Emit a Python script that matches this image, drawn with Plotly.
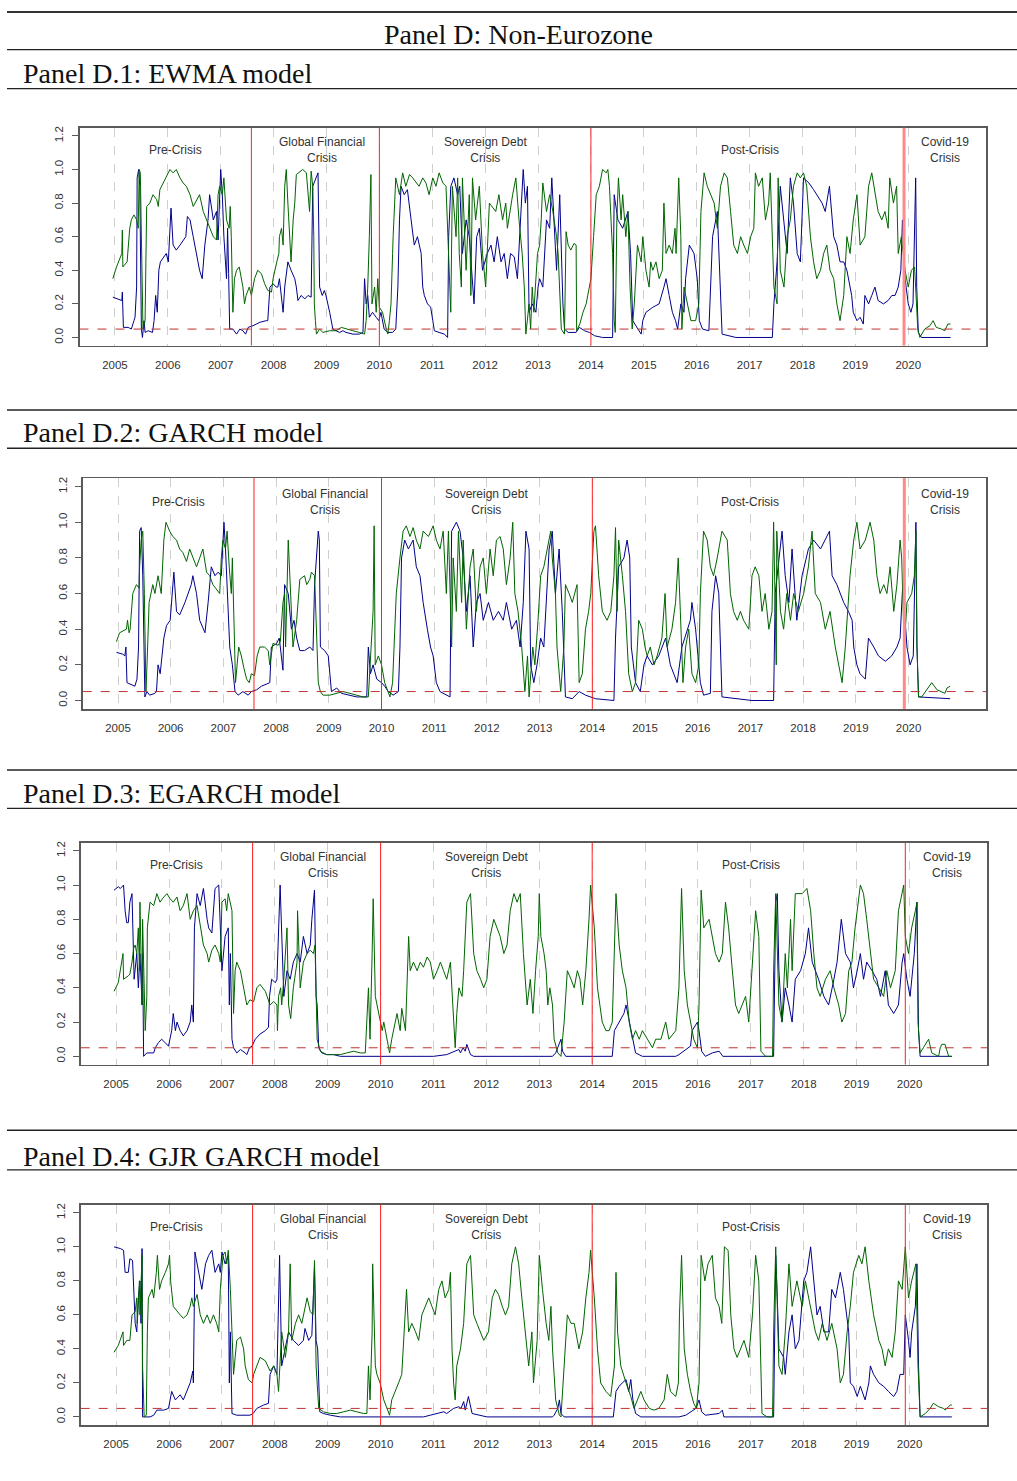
import plotly.graph_objects as go

# ---------------- data (year, value) ----------------
ewma_blue = [(2004.96,0.24),(2005.06,0.23),(2005.13,0.22),(2005.14,0.27),(2005.16,0.06),(2005.25,0.06),(2005.31,0.05),(2005.36,0.10),(2005.38,0.12),(2005.41,0.30),(2005.42,0.95),(2005.45,1.00),(2005.47,0.90),(2005.50,0.05),(2005.52,0.00),(2005.55,0.10),(2005.57,0.03),(2005.63,0.04),(2005.71,0.03),(2005.74,0.10),(2005.77,0.25),(2005.80,0.15),(2005.83,0.40),(2005.86,0.45),(2005.93,0.48),(2005.97,0.50),(2006.01,0.45),(2006.04,0.60),(2006.06,0.77),(2006.10,0.55),(2006.16,0.52),(2006.23,0.55),(2006.29,0.58),(2006.34,0.60),(2006.37,0.72),(2006.42,0.70),(2006.48,0.60),(2006.54,0.50),(2006.60,0.40),(2006.65,0.35),(2006.70,0.55),(2006.76,0.70),(2006.79,0.85),(2006.86,0.70),(2006.92,0.75),(2006.95,0.58),(2007.00,1.00),(2007.03,0.85),(2007.06,0.60),(2007.11,0.35),(2007.13,0.65),(2007.15,0.38),(2007.17,0.05),(2007.23,0.05),(2007.30,0.02),(2007.36,0.05),(2007.42,0.04),(2007.47,0.02),(2007.52,0.06),(2007.61,0.07),(2007.74,0.09),(2007.86,0.10),(2007.89,0.10),(2007.93,0.30),(2007.99,0.32),(2008.05,0.30),(2008.08,0.30),(2008.11,0.35),(2008.18,0.15),(2008.21,0.30),(2008.27,0.45),(2008.33,0.40),(2008.40,0.35),(2008.43,0.30),(2008.46,0.22),(2008.52,0.25),(2008.59,0.23),(2008.65,0.25),(2008.71,0.24),(2008.74,0.90),(2008.81,0.95),(2008.84,0.98),(2008.87,0.30),(2008.92,0.25),(2008.96,0.28),(2008.99,0.25),(2009.06,0.15),(2009.12,0.05),(2009.18,0.04),(2009.25,0.03),(2009.31,0.04),(2009.37,0.03),(2009.50,0.02),(2009.62,0.02),(2009.69,0.03),(2009.72,0.35),(2009.75,0.20),(2009.78,0.25),(2009.81,0.12),(2009.87,0.15),(2009.94,0.12),(2009.99,0.10),(2010.03,0.15),(2010.09,0.05),(2010.16,0.03),(2010.25,0.03),(2010.31,0.05),(2010.35,0.30),(2010.38,0.70),(2010.41,0.90),(2010.47,0.85),(2010.53,0.88),(2010.60,0.70),(2010.66,0.55),(2010.72,0.60),(2010.79,0.50),(2010.82,0.30),(2010.85,0.25),(2010.91,0.20),(2010.97,0.18),(2011.01,0.10),(2011.04,0.04),(2011.13,0.03),(2011.23,0.02),(2011.29,0.00),(2011.31,0.60),(2011.35,0.90),(2011.41,0.95),(2011.48,0.85),(2011.52,0.90),(2011.57,0.50),(2011.64,0.70),(2011.70,0.60),(2011.76,0.30),(2011.79,0.20),(2011.84,0.60),(2011.89,0.65),(2011.95,0.40),(2012.04,0.50),(2012.11,0.55),(2012.17,0.45),(2012.23,0.60),(2012.30,0.45),(2012.36,0.50),(2012.42,0.35),(2012.48,0.50),(2012.55,0.48),(2012.61,0.35),(2012.67,0.70),(2012.72,1.00),(2012.76,0.80),(2012.80,0.90),(2012.83,0.15),(2012.89,0.20),(2012.96,0.15),(2013.00,0.30),(2013.03,0.35),(2013.09,0.30),(2013.16,0.70),(2013.22,0.65),(2013.26,0.95),(2013.31,0.60),(2013.35,0.40),(2013.41,0.85),(2013.44,0.50),(2013.47,0.20),(2013.50,0.05),(2013.57,0.03),(2013.72,0.03),(2013.78,0.06),(2013.88,0.04),(2013.97,0.03),(2014.07,0.01),(2014.22,0.00),(2014.41,0.00),(2014.44,0.85),(2014.51,0.70),(2014.60,0.65),(2014.70,0.75),(2014.75,0.50),(2014.79,0.10),(2014.88,0.05),(2014.95,0.02),(2014.98,0.10),(2015.04,0.15),(2015.17,0.18),(2015.29,0.20),(2015.38,0.30),(2015.42,0.35),(2015.48,0.25),(2015.54,0.15),(2015.60,0.10),(2015.64,0.05),(2015.70,0.20),(2015.76,0.15),(2015.79,0.35),(2015.86,0.55),(2015.95,0.50),(2016.01,0.35),(2016.05,0.10),(2016.11,0.05),(2016.23,0.04),(2016.30,0.60),(2016.39,0.75),(2016.42,0.50),(2016.48,0.02),(2016.74,0.00),(2017.43,0.00),(2017.46,0.20),(2017.52,0.45),(2017.58,0.90),(2017.65,0.70),(2017.71,0.50),(2017.77,0.95),(2017.83,0.80),(2017.90,0.50),(2017.96,0.45),(2018.02,0.95),(2018.12,0.92),(2018.21,0.88),(2018.27,0.85),(2018.37,0.80),(2018.43,0.75),(2018.51,0.90),(2018.59,0.60),(2018.65,0.55),(2018.71,0.45),(2018.78,0.45),(2018.84,0.40),(2018.93,0.25),(2018.96,0.15),(2019.03,0.10),(2019.09,0.12),(2019.15,0.08),(2019.18,0.25),(2019.25,0.20),(2019.31,0.25),(2019.37,0.30),(2019.43,0.22),(2019.53,0.20),(2019.62,0.22),(2019.69,0.25),(2019.75,0.25),(2019.81,0.30),(2019.86,0.40),(2019.89,0.70),(2019.94,0.35),(2020.00,0.20),(2020.05,0.15),(2020.09,0.20),(2020.14,0.95),(2020.16,0.30),(2020.19,0.03),(2020.25,0.00),(2020.80,0.00)]

ewma_green = [(2004.96,0.35),(2005.03,0.42),(2005.13,0.50),(2005.14,0.64),(2005.15,0.42),(2005.23,0.45),(2005.28,0.65),(2005.31,0.70),(2005.36,0.73),(2005.41,0.70),(2005.44,0.65),(2005.46,1.00),(2005.48,0.98),(2005.53,0.05),(2005.57,0.10),(2005.60,0.78),(2005.66,0.80),(2005.72,0.85),(2005.79,0.82),(2005.82,0.78),(2005.85,0.88),(2005.97,0.95),(2006.04,1.00),(2006.10,0.98),(2006.16,1.00),(2006.23,0.95),(2006.29,0.92),(2006.35,0.90),(2006.42,0.85),(2006.48,0.78),(2006.54,0.82),(2006.60,0.85),(2006.67,0.75),(2006.73,0.70),(2006.79,0.65),(2006.86,0.60),(2006.92,0.58),(2006.95,0.85),(2006.98,0.90),(2007.03,0.85),(2007.06,0.95),(2007.11,0.70),(2007.16,0.65),(2007.18,0.78),(2007.20,0.60),(2007.23,0.15),(2007.26,0.35),(2007.30,0.40),(2007.35,0.42),(2007.39,0.35),(2007.42,0.30),(2007.45,0.20),(2007.48,0.25),(2007.54,0.30),(2007.58,0.25),(2007.64,0.35),(2007.70,0.40),(2007.77,0.38),(2007.83,0.32),(2007.89,0.28),(2007.96,0.27),(2007.99,0.35),(2008.02,0.40),(2008.06,0.45),(2008.10,0.50),(2008.11,0.60),(2008.15,0.65),(2008.18,0.55),(2008.21,0.90),(2008.24,1.00),(2008.27,0.80),(2008.30,0.60),(2008.33,0.45),(2008.37,0.70),(2008.40,0.80),(2008.43,0.97),(2008.55,1.00),(2008.62,0.98),(2008.68,0.75),(2008.71,0.99),(2008.74,0.90),(2008.76,0.60),(2008.77,0.20),(2008.79,0.10),(2008.81,0.02),(2008.87,0.05),(2008.93,0.03),(2009.06,0.04),(2009.18,0.04),(2009.28,0.06),(2009.37,0.05),(2009.50,0.04),(2009.62,0.03),(2009.72,0.02),(2009.75,0.10),(2009.78,0.30),(2009.81,0.60),(2009.84,0.97),(2009.86,0.20),(2009.91,0.30),(2009.94,0.15),(2009.97,0.35),(2010.00,0.18),(2010.06,0.15),(2010.13,0.05),(2010.16,0.02),(2010.19,0.10),(2010.22,0.20),(2010.25,0.50),(2010.26,0.60),(2010.31,0.95),(2010.38,0.85),(2010.44,0.98),(2010.50,0.90),(2010.57,0.97),(2010.63,0.95),(2010.75,0.90),(2010.82,0.95),(2010.88,0.92),(2010.94,0.85),(2011.01,0.95),(2011.07,0.90),(2011.13,0.98),(2011.20,0.92),(2011.26,0.90),(2011.35,0.15),(2011.38,0.90),(2011.45,0.60),(2011.48,0.95),(2011.51,0.50),(2011.55,0.30),(2011.57,0.95),(2011.64,0.40),(2011.70,0.85),(2011.73,0.25),(2011.76,0.95),(2011.82,0.70),(2011.89,0.90),(2011.95,0.50),(2012.01,0.30),(2012.08,0.80),(2012.20,0.75),(2012.26,0.85),(2012.33,0.70),(2012.39,0.80),(2012.42,0.65),(2012.52,0.85),(2012.58,0.95),(2012.64,0.70),(2012.70,0.50),(2012.74,0.30),(2012.77,0.02),(2012.83,0.20),(2012.86,0.05),(2012.89,0.30),(2012.92,0.15),(2012.99,0.50),(2013.03,0.55),(2013.06,0.70),(2013.09,0.92),(2013.16,0.75),(2013.22,0.85),(2013.28,0.75),(2013.35,0.60),(2013.38,0.50),(2013.41,0.30),(2013.44,0.05),(2013.50,0.02),(2013.53,0.63),(2013.57,0.55),(2013.62,0.52),(2013.68,0.56),(2013.72,0.55),(2013.73,0.04),(2013.79,0.08),(2013.85,0.15),(2013.91,0.20),(2013.97,0.30),(2014.00,0.35),(2014.05,0.60),(2014.10,0.85),(2014.16,0.90),(2014.22,1.00),(2014.29,0.98),(2014.32,1.00),(2014.35,0.90),(2014.41,0.50),(2014.44,0.10),(2014.46,0.03),(2014.49,0.70),(2014.52,0.95),(2014.57,0.70),(2014.60,0.85),(2014.66,0.60),(2014.70,0.75),(2014.74,0.30),(2014.78,0.05),(2014.82,0.20),(2014.88,0.55),(2014.95,0.45),(2014.98,0.60),(2015.04,0.40),(2015.10,0.30),(2015.13,0.45),(2015.17,0.40),(2015.23,0.45),(2015.29,0.35),(2015.35,0.40),(2015.38,0.80),(2015.42,0.50),(2015.48,0.55),(2015.54,0.50),(2015.59,0.65),(2015.61,0.50),(2015.66,0.95),(2015.70,0.60),(2015.72,0.05),(2015.76,0.30),(2015.83,0.20),(2015.89,0.10),(2015.98,0.10),(2016.04,0.20),(2016.08,0.75),(2016.14,0.98),(2016.20,0.90),(2016.26,0.85),(2016.33,0.80),(2016.39,0.65),(2016.45,0.90),(2016.52,0.98),(2016.58,0.95),(2016.64,0.75),(2016.70,0.55),(2016.77,0.50),(2016.83,0.60),(2016.89,0.55),(2016.96,0.50),(2017.02,0.60),(2017.08,0.65),(2017.11,0.98),(2017.17,0.90),(2017.24,0.95),(2017.30,0.70),(2017.36,0.80),(2017.39,0.98),(2017.46,0.30),(2017.52,0.20),(2017.54,0.95),(2017.58,0.40),(2017.65,0.30),(2017.71,0.60),(2017.77,0.70),(2017.83,0.90),(2017.90,0.98),(2017.96,0.95),(2018.02,0.98),(2018.08,0.90),(2018.15,0.60),(2018.21,0.45),(2018.27,0.35),(2018.34,0.40),(2018.40,0.50),(2018.46,0.55),(2018.52,0.40),(2018.59,0.35),(2018.65,0.20),(2018.71,0.10),(2018.78,0.25),(2018.84,0.60),(2018.90,0.50),(2018.96,0.70),(2019.03,0.85),(2019.09,0.55),(2019.18,0.60),(2019.25,0.90),(2019.31,0.98),(2019.37,0.85),(2019.43,0.75),(2019.50,0.70),(2019.56,0.75),(2019.62,0.65),(2019.65,0.95),(2019.72,0.80),(2019.78,0.90),(2019.81,0.50),(2019.87,0.60),(2019.94,0.40),(2020.00,0.30),(2020.06,0.40),(2020.12,0.42),(2020.18,0.05),(2020.22,0.00),(2020.31,0.05),(2020.41,0.07),(2020.47,0.10),(2020.53,0.06),(2020.63,0.05),(2020.69,0.04),(2020.75,0.08),(2020.80,0.08)]

garch_blue = [(2004.97,0.27),(2005.09,0.26),(2005.13,0.25),(2005.15,0.30),(2005.17,0.10),(2005.25,0.09),(2005.32,0.08),(2005.36,0.12),(2005.39,0.30),(2005.41,0.95),(2005.44,0.97),(2005.47,0.70),(2005.51,0.02),(2005.55,0.05),(2005.60,0.03),(2005.70,0.04),(2005.73,0.05),(2005.76,0.20),(2005.80,0.15),(2005.87,0.35),(2005.92,0.42),(2005.99,0.45),(2006.02,0.55),(2006.06,0.72),(2006.11,0.50),(2006.17,0.48),(2006.27,0.55),(2006.33,0.60),(2006.39,0.65),(2006.42,0.70),(2006.49,0.60),(2006.55,0.45),(2006.65,0.38),(2006.71,0.55),(2006.77,0.75),(2006.84,0.70),(2006.90,0.72),(2006.96,0.70),(2007.01,1.00),(2007.04,0.85),(2007.07,0.60),(2007.12,0.30),(2007.17,0.20),(2007.22,0.05),(2007.28,0.03),(2007.37,0.05),(2007.47,0.03),(2007.53,0.05),(2007.63,0.06),(2007.72,0.08),(2007.88,0.10),(2007.91,0.30),(2008.01,0.32),(2008.06,0.35),(2008.13,0.17),(2008.16,0.65),(2008.23,0.60),(2008.29,0.40),(2008.34,0.45),(2008.39,0.35),(2008.45,0.28),(2008.54,0.28),(2008.64,0.30),(2008.70,0.28),(2008.73,0.65),(2008.80,0.95),(2008.82,0.90),(2008.84,0.30),(2008.92,0.28),(2008.99,0.25),(2009.05,0.05),(2009.15,0.07),(2009.24,0.04),(2009.37,0.03),(2009.53,0.02),(2009.72,0.02),(2009.75,0.30),(2009.79,0.15),(2009.84,0.20),(2009.91,0.12),(2010.00,0.10),(2010.06,0.08),(2010.13,0.05),(2010.22,0.03),(2010.32,0.05),(2010.35,0.30),(2010.38,0.80),(2010.44,0.90),(2010.51,0.85),(2010.60,0.90),(2010.66,0.75),(2010.73,0.70),(2010.79,0.55),(2010.87,0.40),(2010.93,0.30),(2010.98,0.25),(2011.04,0.10),(2011.11,0.05),(2011.23,0.03),(2011.30,0.02),(2011.33,0.95),(2011.42,1.00),(2011.49,0.95),(2011.55,0.80),(2011.61,0.50),(2011.68,0.70),(2011.74,0.30),(2011.80,0.55),(2011.87,0.60),(2011.93,0.45),(2012.03,0.55),(2012.12,0.45),(2012.22,0.50),(2012.31,0.45),(2012.37,0.55),(2012.47,0.40),(2012.56,0.45),(2012.63,0.30),(2012.69,0.55),(2012.74,0.95),(2012.80,0.85),(2012.83,0.20),(2012.89,0.10),(2012.95,0.20),(2013.02,0.35),(2013.08,0.30),(2013.18,0.85),(2013.24,0.95),(2013.30,0.60),(2013.37,0.85),(2013.43,0.50),(2013.46,0.20),(2013.49,0.02),(2013.62,0.01),(2013.75,0.05),(2013.87,0.03),(2014.06,0.01),(2014.41,0.00),(2014.44,0.35),(2014.50,0.75),(2014.60,0.80),(2014.66,0.90),(2014.71,0.80),(2014.74,0.30),(2014.82,0.10),(2014.91,0.05),(2014.98,0.20),(2015.04,0.25),(2015.14,0.20),(2015.26,0.25),(2015.39,0.35),(2015.48,0.20),(2015.55,0.15),(2015.61,0.10),(2015.70,0.30),(2015.86,0.45),(2015.89,0.55),(2015.96,0.40),(2016.05,0.10),(2016.11,0.03),(2016.24,0.04),(2016.27,0.50),(2016.34,0.70),(2016.40,0.60),(2016.46,0.02),(2017.03,0.00),(2017.44,0.00),(2017.47,0.60),(2017.60,0.95),(2017.66,0.70),(2017.73,0.55),(2017.79,0.85),(2017.88,0.45),(2017.98,0.70),(2018.10,0.85),(2018.20,0.90),(2018.33,0.85),(2018.50,0.95),(2018.55,0.70),(2018.64,0.65),(2018.77,0.55),(2018.86,0.50),(2018.93,0.45),(2018.96,0.30),(2019.02,0.20),(2019.08,0.15),(2019.18,0.12),(2019.24,0.35),(2019.34,0.30),(2019.43,0.25),(2019.56,0.22),(2019.68,0.25),(2019.78,0.30),(2019.84,0.35),(2019.89,0.65),(2019.97,0.30),(2020.03,0.20),(2020.09,0.25),(2020.14,1.00),(2020.16,0.30),(2020.19,0.02),(2020.79,0.01)]

garch_green = [(2004.97,0.33),(2005.03,0.38),(2005.16,0.40),(2005.18,0.45),(2005.21,0.38),(2005.23,0.40),(2005.28,0.60),(2005.35,0.65),(2005.40,0.63),(2005.41,0.75),(2005.44,0.90),(2005.47,0.95),(2005.50,0.60),(2005.53,0.05),(2005.55,0.20),(2005.59,0.55),(2005.66,0.65),(2005.70,0.60),(2005.76,0.70),(2005.82,0.60),(2005.87,0.90),(2005.91,1.00),(2005.98,0.95),(2006.04,0.92),(2006.11,0.90),(2006.17,0.85),(2006.23,0.83),(2006.30,0.78),(2006.36,0.85),(2006.42,0.80),(2006.49,0.75),(2006.55,0.80),(2006.61,0.85),(2006.68,0.72),(2006.74,0.70),(2006.80,0.65),(2006.87,0.62),(2006.93,0.60),(2006.96,0.80),(2006.99,0.90),(2007.04,0.85),(2007.07,0.95),(2007.11,0.75),(2007.15,0.60),(2007.17,0.80),(2007.20,0.40),(2007.23,0.10),(2007.29,0.30),(2007.34,0.25),(2007.39,0.18),(2007.44,0.12),(2007.49,0.10),(2007.53,0.15),(2007.59,0.14),(2007.64,0.25),(2007.69,0.30),(2007.78,0.30),(2007.85,0.28),(2007.88,0.20),(2007.94,0.32),(2008.04,0.31),(2008.08,0.33),(2008.13,0.55),(2008.16,0.60),(2008.18,0.30),(2008.23,0.90),(2008.26,0.70),(2008.29,0.50),(2008.32,0.30),(2008.39,0.45),(2008.45,0.68),(2008.54,0.70),(2008.58,0.65),(2008.64,0.68),(2008.67,0.72),(2008.73,0.70),(2008.75,0.50),(2008.78,0.20),(2008.80,0.10),(2008.84,0.05),(2008.89,0.03),(2009.02,0.03),(2009.15,0.04),(2009.27,0.05),(2009.40,0.04),(2009.53,0.03),(2009.65,0.02),(2009.75,0.02),(2009.78,0.20),(2009.81,0.30),(2009.84,0.50),(2009.86,0.98),(2009.88,0.20),(2009.94,0.25),(2010.00,0.20),(2010.06,0.10),(2010.13,0.05),(2010.16,0.02),(2010.21,0.10),(2010.25,0.35),(2010.28,0.60),(2010.35,0.80),(2010.41,0.95),(2010.47,0.98),(2010.54,0.92),(2010.60,0.97),(2010.66,0.90),(2010.73,0.85),(2010.79,0.95),(2010.89,0.92),(2010.98,0.98),(2011.04,0.90),(2011.11,0.85),(2011.17,0.95),(2011.23,0.60),(2011.27,0.95),(2011.33,0.30),(2011.36,0.80),(2011.42,0.50),(2011.46,0.95),(2011.52,0.55),(2011.55,0.90),(2011.61,0.40),(2011.68,0.75),(2011.74,0.85),(2011.80,0.50),(2011.87,0.75),(2011.93,0.80),(2011.99,0.60),(2012.06,0.85),(2012.12,0.70),(2012.18,0.90),(2012.25,0.92),(2012.31,0.85),(2012.37,0.65),(2012.44,0.80),(2012.49,1.00),(2012.53,0.60),(2012.59,0.50),(2012.66,0.30),(2012.72,0.05),(2012.77,0.25),(2012.80,0.02),(2012.87,0.30),(2012.91,0.20),(2012.97,0.45),(2013.02,0.70),(2013.08,0.75),(2013.15,0.85),(2013.21,0.95),(2013.24,0.80),(2013.30,0.60),(2013.33,0.30),(2013.40,0.05),(2013.46,0.30),(2013.49,0.65),(2013.56,0.60),(2013.62,0.55),(2013.71,0.65),(2013.75,0.10),(2013.81,0.15),(2013.87,0.40),(2013.93,0.50),(2013.97,0.60),(2014.03,0.95),(2014.06,0.98),(2014.12,0.70),(2014.19,0.50),(2014.28,0.45),(2014.35,0.50),(2014.41,0.70),(2014.44,0.97),(2014.47,0.50),(2014.50,0.90),(2014.57,0.70),(2014.63,0.50),(2014.69,0.15),(2014.76,0.05),(2014.82,0.10),(2014.88,0.45),(2014.95,0.40),(2015.00,0.30),(2015.04,0.25),(2015.10,0.30),(2015.17,0.20),(2015.23,0.25),(2015.32,0.35),(2015.38,0.60),(2015.42,0.30),(2015.51,0.40),(2015.58,0.55),(2015.63,0.80),(2015.67,0.50),(2015.72,0.10),(2015.77,0.30),(2015.83,0.40),(2015.89,0.15),(2015.96,0.10),(2016.02,0.20),(2016.05,0.60),(2016.11,0.95),(2016.18,0.90),(2016.24,0.75),(2016.30,0.70),(2016.37,0.80),(2016.46,0.95),(2016.56,0.90),(2016.62,0.60),(2016.68,0.50),(2016.75,0.45),(2016.81,0.50),(2016.87,0.45),(2016.97,0.40),(2017.03,0.70),(2017.09,0.75),(2017.16,0.70),(2017.22,0.50),(2017.28,0.60),(2017.35,0.40),(2017.41,0.50),(2017.44,1.00),(2017.49,0.20),(2017.50,0.95),(2017.57,0.50),(2017.63,0.40),(2017.69,0.60),(2017.76,0.45),(2017.82,0.60),(2017.91,0.50),(2018.01,0.60),(2018.10,0.75),(2018.17,0.95),(2018.23,0.60),(2018.33,0.55),(2018.42,0.40),(2018.51,0.50),(2018.61,0.30),(2018.67,0.20),(2018.74,0.10),(2018.80,0.30),(2018.89,0.70),(2018.96,0.90),(2019.02,1.00),(2019.08,0.85),(2019.18,0.90),(2019.27,1.00),(2019.34,0.90),(2019.40,0.70),(2019.46,0.60),(2019.53,0.65),(2019.59,0.60),(2019.65,0.75),(2019.72,0.50),(2019.78,0.65),(2019.84,0.90),(2019.87,0.80),(2019.92,0.30),(2019.97,0.55),(2020.06,0.60),(2020.11,0.70),(2020.14,0.95),(2020.16,0.30),(2020.19,0.02),(2020.25,0.02),(2020.35,0.06),(2020.44,0.10),(2020.54,0.06),(2020.63,0.05),(2020.69,0.04),(2020.73,0.07),(2020.79,0.08)]

egarch_blue = [(2004.96,0.97),(2005.04,0.99),(2005.08,0.98),(2005.14,1.00),(2005.17,0.85),(2005.20,0.78),(2005.23,0.78),(2005.26,0.90),(2005.30,0.95),(2005.34,0.45),(2005.39,0.60),(2005.42,0.40),(2005.45,0.60),(2005.49,0.30),(2005.50,0.60),(2005.52,0.00),(2005.58,0.02),(2005.71,0.02),(2005.74,0.05),(2005.80,0.08),(2005.86,0.10),(2005.93,0.08),(2005.99,0.06),(2006.05,0.15),(2006.08,0.25),(2006.12,0.15),(2006.15,0.20),(2006.21,0.15),(2006.27,0.12),(2006.34,0.15),(2006.40,0.20),(2006.43,0.30),(2006.46,0.20),(2006.48,0.75),(2006.53,0.95),(2006.59,0.88),(2006.65,0.98),(2006.72,0.80),(2006.75,0.75),(2006.81,0.72),(2006.87,0.98),(2006.94,1.00),(2006.97,0.75),(2007.00,0.50),(2007.06,0.70),(2007.12,0.75),(2007.14,0.30),(2007.16,0.60),(2007.19,0.10),(2007.22,0.05),(2007.28,0.02),(2007.35,0.04),(2007.44,0.02),(2007.47,0.01),(2007.52,0.05),(2007.57,0.06),(2007.63,0.10),(2007.72,0.13),(2007.82,0.15),(2007.88,0.17),(2007.90,0.35),(2007.94,0.45),(2008.01,0.43),(2008.04,0.45),(2008.10,1.00),(2008.17,0.35),(2008.23,0.50),(2008.29,0.45),(2008.35,0.55),(2008.42,0.60),(2008.48,0.55),(2008.54,0.70),(2008.61,0.60),(2008.67,0.65),(2008.70,0.80),(2008.75,0.97),(2008.78,0.35),(2008.80,0.30),(2008.83,0.05),(2008.89,0.02),(2008.98,0.01),(2009.11,0.01),(2009.24,0.00),(2011.00,0.00),(2011.25,0.01),(2011.32,0.02),(2011.38,0.03),(2011.48,0.04),(2011.51,0.02),(2011.56,0.05),(2011.60,0.03),(2011.63,0.07),(2011.70,0.01),(2011.76,0.00),(2013.25,0.00),(2013.31,0.02),(2013.36,0.06),(2013.41,0.10),(2013.44,0.03),(2013.50,0.00),(2014.38,0.00),(2014.42,0.15),(2014.51,0.20),(2014.60,0.25),(2014.64,0.30),(2014.70,0.20),(2014.76,0.10),(2014.82,0.02),(2014.95,0.00),(2015.58,0.00),(2015.64,0.01),(2015.77,0.04),(2015.86,0.06),(2015.89,0.15),(2015.99,0.20),(2016.02,0.15),(2016.07,0.03),(2016.14,0.00),(2016.27,0.02),(2016.40,0.03),(2016.47,0.00),(2017.43,0.00),(2017.47,0.90),(2017.50,0.95),(2017.53,0.50),(2017.59,0.20),(2017.65,0.40),(2017.72,0.30),(2017.78,0.20),(2017.84,0.45),(2017.94,0.50),(2018.03,0.60),(2018.09,0.75),(2018.16,0.55),(2018.22,0.50),(2018.28,0.45),(2018.38,0.35),(2018.47,0.30),(2018.57,0.45),(2018.63,0.55),(2018.71,0.80),(2018.79,0.60),(2018.88,0.55),(2018.94,0.40),(2019.01,0.50),(2019.07,0.60),(2019.13,0.45),(2019.19,0.55),(2019.29,0.50),(2019.38,0.45),(2019.45,0.35),(2019.54,0.50),(2019.60,0.30),(2019.70,0.25),(2019.79,0.30),(2019.86,0.55),(2019.89,0.60),(2019.95,0.45),(2020.01,0.35),(2020.09,0.60),(2020.14,0.90),(2020.17,0.15),(2020.20,0.00),(2020.80,0.00)]

egarch_green = [(2004.96,0.38),(2005.04,0.43),(2005.13,0.60),(2005.14,0.45),(2005.23,0.47),(2005.26,0.48),(2005.30,0.55),(2005.33,0.63),(2005.36,0.65),(2005.39,0.60),(2005.42,0.75),(2005.44,0.50),(2005.45,0.90),(2005.49,0.30),(2005.50,0.80),(2005.55,0.15),(2005.58,0.35),(2005.59,0.75),(2005.64,0.90),(2005.71,0.88),(2005.77,0.95),(2005.83,0.90),(2005.90,0.93),(2005.96,0.95),(2006.02,0.92),(2006.08,0.90),(2006.15,0.93),(2006.21,0.85),(2006.27,0.88),(2006.34,0.95),(2006.40,0.80),(2006.46,0.85),(2006.53,0.88),(2006.59,0.75),(2006.65,0.65),(2006.72,0.60),(2006.75,0.55),(2006.81,0.62),(2006.87,0.65),(2006.94,0.60),(2006.97,0.55),(2007.00,0.90),(2007.06,0.92),(2007.09,0.85),(2007.12,0.95),(2007.19,0.85),(2007.22,0.25),(2007.25,0.50),(2007.28,0.55),(2007.35,0.50),(2007.38,0.45),(2007.41,0.40),(2007.47,0.30),(2007.53,0.33),(2007.60,0.32),(2007.66,0.40),(2007.72,0.42),(2007.82,0.38),(2007.91,0.30),(2007.98,0.32),(2008.04,0.30),(2008.05,0.15),(2008.07,0.35),(2008.11,0.40),(2008.13,0.30),(2008.17,0.45),(2008.23,0.75),(2008.26,0.30),(2008.30,0.22),(2008.35,0.40),(2008.39,0.50),(2008.42,0.55),(2008.43,0.85),(2008.48,0.40),(2008.54,0.55),(2008.61,0.60),(2008.67,0.62),(2008.73,0.60),(2008.76,0.65),(2008.80,0.10),(2008.86,0.03),(2008.98,0.01),(2009.11,0.01),(2009.24,0.01),(2009.36,0.02),(2009.49,0.03),(2009.62,0.02),(2009.71,0.02),(2009.77,0.40),(2009.80,0.10),(2009.84,0.60),(2009.86,0.92),(2009.90,0.35),(2009.93,0.30),(2009.96,0.25),(2010.03,0.15),(2010.06,0.20),(2010.12,0.10),(2010.17,0.02),(2010.21,0.10),(2010.28,0.20),(2010.31,0.25),(2010.37,0.15),(2010.40,0.28),(2010.47,0.15),(2010.50,0.45),(2010.53,0.70),(2010.56,0.50),(2010.62,0.55),(2010.69,0.50),(2010.75,0.55),(2010.81,0.52),(2010.88,0.58),(2010.94,0.55),(2011.00,0.45),(2011.07,0.50),(2011.13,0.55),(2011.19,0.50),(2011.25,0.45),(2011.32,0.55),(2011.35,0.40),(2011.38,0.20),(2011.41,0.05),(2011.44,0.25),(2011.48,0.40),(2011.54,0.35),(2011.57,0.50),(2011.63,0.90),(2011.70,0.95),(2011.76,0.60),(2011.82,0.50),(2011.89,0.45),(2011.95,0.40),(2012.01,0.45),(2012.07,0.70),(2012.14,0.80),(2012.20,0.75),(2012.26,0.70),(2012.33,0.60),(2012.39,0.65),(2012.45,0.85),(2012.52,0.95),(2012.58,0.90),(2012.64,0.95),(2012.70,0.60),(2012.77,0.30),(2012.83,0.45),(2012.88,0.25),(2012.93,0.50),(2012.98,0.70),(2013.00,0.95),(2013.03,0.70),(2013.09,0.60),(2013.13,0.50),(2013.16,0.30),(2013.20,0.40),(2013.25,0.30),(2013.28,0.10),(2013.35,0.02),(2013.41,0.00),(2013.47,0.20),(2013.53,0.50),(2013.60,0.45),(2013.66,0.40),(2013.72,0.50),(2013.77,0.45),(2013.82,0.30),(2013.88,0.50),(2013.94,0.80),(2013.97,1.00),(2014.04,0.75),(2014.10,0.40),(2014.19,0.20),(2014.26,0.15),(2014.32,0.15),(2014.38,0.20),(2014.45,0.95),(2014.51,0.65),(2014.57,0.50),(2014.64,0.40),(2014.70,0.20),(2014.76,0.10),(2014.82,0.15),(2014.89,0.10),(2014.95,0.15),(2015.01,0.12),(2015.08,0.08),(2015.14,0.05),(2015.20,0.10),(2015.30,0.10),(2015.39,0.20),(2015.45,0.10),(2015.58,0.15),(2015.64,0.40),(2015.69,0.98),(2015.74,0.50),(2015.80,0.30),(2015.86,0.20),(2015.92,0.10),(2015.99,0.05),(2016.02,0.30),(2016.06,0.97),(2016.11,0.75),(2016.21,0.80),(2016.27,0.70),(2016.33,0.60),(2016.40,0.55),(2016.46,0.60),(2016.52,0.90),(2016.58,0.75),(2016.65,0.50),(2016.71,0.30),(2016.77,0.25),(2016.84,0.30),(2016.90,0.35),(2016.96,0.20),(2017.03,0.55),(2017.09,0.85),(2017.15,0.70),(2017.19,0.03),(2017.28,0.00),(2017.41,0.00),(2017.43,0.50),(2017.47,0.95),(2017.53,0.30),(2017.59,0.20),(2017.65,0.60),(2017.69,0.40),(2017.75,0.80),(2017.78,0.50),(2017.84,0.95),(2017.97,0.95),(2018.06,0.98),(2018.13,0.85),(2018.19,0.60),(2018.25,0.40),(2018.31,0.35),(2018.41,0.45),(2018.50,0.50),(2018.57,0.40),(2018.66,0.30),(2018.72,0.20),(2018.79,0.25),(2018.85,0.50),(2018.91,0.55),(2018.97,0.75),(2019.07,1.00),(2019.13,0.95),(2019.19,0.80),(2019.26,0.60),(2019.32,0.45),(2019.42,0.40),(2019.51,0.35),(2019.57,0.50),(2019.64,0.40),(2019.73,0.50),(2019.79,0.85),(2019.89,1.00),(2019.92,0.70),(2019.98,0.60),(2020.04,0.75),(2020.11,0.85),(2020.14,0.90),(2020.16,0.20),(2020.20,0.02),(2020.26,0.05),(2020.36,0.10),(2020.42,0.02),(2020.55,0.00),(2020.58,0.05),(2020.61,0.07),(2020.67,0.07),(2020.74,0.00),(2020.80,0.00)]

gjr_blue = [(2004.96,1.00),(2005.08,0.99),(2005.14,0.98),(2005.17,0.85),(2005.23,0.85),(2005.26,0.93),(2005.31,0.92),(2005.36,0.55),(2005.39,0.50),(2005.42,0.70),(2005.45,0.80),(2005.47,0.55),(2005.49,0.99),(2005.50,0.00),(2005.64,0.00),(2005.71,0.01),(2005.77,0.04),(2005.90,0.04),(2005.99,0.05),(2006.05,0.15),(2006.12,0.10),(2006.21,0.13),(2006.27,0.10),(2006.34,0.15),(2006.40,0.20),(2006.45,0.27),(2006.46,0.20),(2006.49,0.97),(2006.56,0.85),(2006.62,0.75),(2006.69,0.90),(2006.75,0.95),(2006.81,0.98),(2006.87,0.85),(2006.94,0.90),(2006.97,0.85),(2007.00,0.97),(2007.06,0.90),(2007.12,0.95),(2007.14,0.20),(2007.16,0.50),(2007.19,0.02),(2007.28,0.01),(2007.41,0.01),(2007.53,0.01),(2007.59,0.02),(2007.66,0.05),(2007.79,0.07),(2007.88,0.08),(2007.91,0.25),(2007.98,0.30),(2008.04,0.25),(2008.09,0.95),(2008.13,0.30),(2008.20,0.40),(2008.26,0.50),(2008.35,0.45),(2008.45,0.42),(2008.54,0.45),(2008.57,0.52),(2008.64,0.45),(2008.70,0.48),(2008.75,0.88),(2008.78,0.45),(2008.81,0.40),(2008.85,0.03),(2008.92,0.02),(2009.05,0.01),(2009.24,0.00),(2010.81,0.00),(2010.94,0.01),(2011.10,0.02),(2011.19,0.03),(2011.25,0.02),(2011.38,0.05),(2011.48,0.06),(2011.52,0.05),(2011.57,0.09),(2011.60,0.04),(2011.66,0.12),(2011.73,0.02),(2012.01,0.00),(2013.25,0.00),(2013.28,0.01),(2013.35,0.05),(2013.38,0.10),(2013.41,0.02),(2013.47,0.00),(2014.40,0.00),(2014.45,0.15),(2014.51,0.18),(2014.57,0.20),(2014.64,0.22),(2014.69,0.15),(2014.73,0.22),(2014.77,0.10),(2014.82,0.02),(2014.92,0.00),(2015.64,0.00),(2015.77,0.01),(2015.86,0.03),(2015.96,0.05),(2016.02,0.10),(2016.07,0.03),(2016.14,0.01),(2016.40,0.02),(2016.46,0.04),(2016.49,0.00),(2017.43,0.00),(2017.47,0.95),(2017.50,0.70),(2017.53,0.40),(2017.62,0.35),(2017.65,0.25),(2017.72,0.50),(2017.78,0.60),(2017.84,0.40),(2017.91,0.45),(2018.00,0.80),(2018.06,0.85),(2018.13,1.00),(2018.19,0.80),(2018.25,0.60),(2018.31,0.65),(2018.38,0.50),(2018.47,0.50),(2018.53,0.75),(2018.60,0.70),(2018.69,0.85),(2018.75,0.75),(2018.85,0.50),(2018.88,0.20),(2018.94,0.18),(2019.01,0.12),(2019.07,0.18),(2019.16,0.10),(2019.23,0.20),(2019.26,0.30),(2019.32,0.25),(2019.42,0.20),(2019.51,0.18),(2019.60,0.15),(2019.70,0.12),(2019.76,0.15),(2019.82,0.25),(2019.89,0.25),(2019.92,0.60),(2019.98,0.45),(2020.01,0.35),(2020.04,0.50),(2020.11,0.65),(2020.14,0.90),(2020.17,0.30),(2020.20,0.00),(2020.80,0.00)]

gjr_green = [(2004.96,0.38),(2005.04,0.42),(2005.13,0.50),(2005.14,0.42),(2005.20,0.45),(2005.26,0.45),(2005.30,0.60),(2005.36,0.62),(2005.39,0.70),(2005.40,0.55),(2005.44,0.80),(2005.45,0.60),(2005.49,0.95),(2005.50,0.30),(2005.53,0.00),(2005.57,0.01),(2005.59,0.50),(2005.61,0.70),(2005.68,0.75),(2005.71,0.70),(2005.76,0.85),(2005.78,0.95),(2005.82,0.75),(2005.86,0.80),(2005.93,0.85),(2005.99,0.90),(2006.01,0.95),(2006.03,0.80),(2006.08,0.65),(2006.15,0.62),(2006.21,0.60),(2006.27,0.58),(2006.34,0.60),(2006.40,0.65),(2006.43,0.70),(2006.46,0.65),(2006.53,0.72),(2006.59,0.60),(2006.65,0.55),(2006.72,0.60),(2006.78,0.55),(2006.84,0.60),(2006.90,0.55),(2006.94,0.50),(2006.97,0.75),(2007.02,0.95),(2007.06,0.97),(2007.09,0.90),(2007.12,0.98),(2007.16,0.75),(2007.22,0.25),(2007.28,0.45),(2007.35,0.47),(2007.41,0.40),(2007.44,0.30),(2007.50,0.22),(2007.57,0.20),(2007.60,0.25),(2007.66,0.30),(2007.72,0.35),(2007.82,0.33),(2007.91,0.27),(2007.98,0.30),(2008.04,0.25),(2008.07,0.15),(2008.10,0.30),(2008.13,0.50),(2008.20,0.35),(2008.26,0.50),(2008.29,0.90),(2008.32,0.45),(2008.39,0.55),(2008.45,0.60),(2008.51,0.55),(2008.58,0.65),(2008.61,0.70),(2008.67,0.62),(2008.72,0.60),(2008.75,0.92),(2008.78,0.30),(2008.83,0.05),(2008.92,0.03),(2009.05,0.02),(2009.17,0.02),(2009.30,0.03),(2009.43,0.04),(2009.55,0.03),(2009.68,0.02),(2009.74,0.02),(2009.77,0.30),(2009.80,0.10),(2009.84,0.50),(2009.85,0.90),(2009.90,0.30),(2009.93,0.25),(2009.99,0.20),(2010.06,0.10),(2010.12,0.05),(2010.17,0.01),(2010.21,0.10),(2010.28,0.15),(2010.34,0.20),(2010.40,0.25),(2010.47,0.60),(2010.49,0.75),(2010.53,0.50),(2010.59,0.55),(2010.66,0.50),(2010.72,0.45),(2010.78,0.60),(2010.84,0.65),(2010.91,0.70),(2010.97,0.65),(2011.03,0.60),(2011.10,0.75),(2011.16,0.80),(2011.22,0.70),(2011.29,0.75),(2011.32,0.85),(2011.35,0.40),(2011.38,0.20),(2011.41,0.10),(2011.44,0.30),(2011.51,0.40),(2011.57,0.55),(2011.63,0.90),(2011.70,0.95),(2011.76,0.60),(2011.82,0.55),(2011.89,0.50),(2011.95,0.45),(2012.04,0.50),(2012.11,0.70),(2012.17,0.75),(2012.23,0.72),(2012.30,0.65),(2012.36,0.60),(2012.42,0.65),(2012.48,0.90),(2012.55,1.00),(2012.61,0.90),(2012.67,0.70),(2012.74,0.50),(2012.80,0.30),(2012.86,0.50),(2012.89,0.20),(2012.96,0.45),(2013.00,0.95),(2013.06,0.75),(2013.13,0.55),(2013.18,0.45),(2013.22,0.65),(2013.25,0.40),(2013.31,0.10),(2013.38,0.01),(2013.41,0.00),(2013.47,0.30),(2013.53,0.60),(2013.60,0.55),(2013.66,0.55),(2013.75,0.40),(2013.82,0.50),(2013.88,0.70),(2013.94,0.85),(2013.97,0.98),(2014.04,0.70),(2014.10,0.40),(2014.16,0.20),(2014.26,0.15),(2014.35,0.12),(2014.42,0.30),(2014.45,0.85),(2014.48,0.50),(2014.54,0.30),(2014.64,0.20),(2014.73,0.12),(2014.79,0.05),(2014.86,0.10),(2014.92,0.15),(2014.98,0.10),(2015.08,0.05),(2015.17,0.04),(2015.26,0.05),(2015.36,0.10),(2015.42,0.25),(2015.48,0.15),(2015.58,0.12),(2015.63,0.20),(2015.65,0.60),(2015.69,0.95),(2015.74,0.40),(2015.80,0.25),(2015.86,0.15),(2015.92,0.08),(2015.97,0.05),(2016.02,0.20),(2016.06,0.95),(2016.13,0.80),(2016.19,0.90),(2016.27,0.95),(2016.33,0.70),(2016.40,0.65),(2016.45,0.55),(2016.50,1.00),(2016.57,0.98),(2016.62,0.60),(2016.68,0.40),(2016.74,0.35),(2016.81,0.40),(2016.87,0.45),(2016.96,0.35),(2017.03,0.60),(2017.09,0.95),(2017.15,0.80),(2017.21,0.02),(2017.31,0.00),(2017.41,0.00),(2017.43,0.50),(2017.47,1.00),(2017.53,0.30),(2017.59,0.25),(2017.65,0.50),(2017.72,0.90),(2017.78,0.65),(2017.87,0.80),(2017.97,0.65),(2018.03,0.80),(2018.09,0.70),(2018.16,0.60),(2018.22,0.50),(2018.28,0.45),(2018.35,0.55),(2018.44,0.45),(2018.53,0.55),(2018.63,0.40),(2018.69,0.20),(2018.75,0.25),(2018.82,0.50),(2018.88,0.65),(2018.94,0.85),(2019.04,0.95),(2019.10,0.90),(2019.16,1.00),(2019.23,0.80),(2019.32,0.60),(2019.42,0.45),(2019.48,0.40),(2019.54,0.30),(2019.60,0.40),(2019.67,0.35),(2019.73,0.50),(2019.79,0.80),(2019.86,0.75),(2019.92,1.00),(2019.98,0.70),(2020.04,0.80),(2020.12,0.90),(2020.16,0.30),(2020.20,0.00),(2020.30,0.02),(2020.39,0.05),(2020.45,0.08),(2020.55,0.06),(2020.64,0.05),(2020.67,0.04),(2020.77,0.07),(2020.80,0.07)]

year_ticks = list(range(2005, 2021))
year_labels = [str(y) for y in year_ticks]
y_ticks = [0.0, 0.2, 0.4, 0.6, 0.8, 1.0, 1.2]
y_labels = ["0.0", "0.2", "0.4", "0.6", "0.8", "1.0", "1.2"]
crisis_breaks = [2007.58, 2010.0, 2014.0, 2019.92]
threshold = 0.05
phase_names = ["Pre-Crisis", "Global Financial<br>Crisis", "Sovereign Debt<br>Crisis", "Post-Crisis", "Covid-19<br>Crisis"]
phase_x = [2006.15, 2008.92, 2012.0, 2017.0, 2020.7]
phase_y = 1.115

main_title = "Panel D: Non-Eurozone"
panel_titles = ["Panel D.1: EWMA model", "Panel D.2: GARCH model",
                "Panel D.3: EGARCH model", "Panel D.4: GJR GARCH model"]
series = [(ewma_blue, ewma_green), (garch_blue, garch_green),
          (egarch_blue, egarch_green), (gjr_blue, gjr_green)]

# ---------------- layout geometry (pixels) ----------------
W, H = 1017, 1481
# plot frames: left, right, top, bottom
frames = [(79.5, 986, 126, 344), (82.7, 986, 476.7, 708),
          (80.7, 987.3, 841.7, 1064), (80.7, 987.3, 1204.3, 1425)]
# header lines (top line, bottom line) and title centre y
headers = [(47.7, 86.7, 72), (408.5, 446.8, 431.5), (769, 807.5, 792.5), (1129.8, 1169.5, 1156.5)]
thick_last_break = [True, True, False, False]

BLUE = "#00008B"
GREEN = "#006400"
TXT = "#333333"
FRAME = "#5a5a5a"

def py(px):
    return 1 - px / H

fig = go.Figure()
layout_axes = {}
shapes = []
annotations = []

for i, ((blue, green), (l, r, t, b)) in enumerate(zip(series, frames)):
    n = "" if i == 0 else str(i + 1)
    xa, ya = "x" + n, "y" + n
    fig.add_trace(go.Scatter(x=[p[0] for p in blue], y=[p[1] for p in blue], mode="lines",
                             line=dict(color=BLUE, width=1), xaxis=xa, yaxis=ya,
                             showlegend=False, hoverinfo="skip"))
    fig.add_trace(go.Scatter(x=[p[0] for p in green], y=[p[1] for p in green], mode="lines",
                             line=dict(color=GREEN, width=1), xaxis=xa, yaxis=ya,
                             showlegend=False, hoverinfo="skip"))
    layout_axes["xaxis" + n] = dict(
        domain=[l / W, r / W], range=[2004.33, 2021.47], anchor=ya,
        tickmode="array", tickvals=year_ticks, ticktext=year_labels,
        showgrid=True, gridcolor="#CFCFCF", griddash="dash", gridwidth=1,
        showline=True, mirror=True, linecolor=FRAME, linewidth=1.5,
        ticks="", ticklabelstandoff=8, zeroline=False,
        tickfont=dict(family="Liberation Sans, Arial", size=11.5, color=TXT))
    layout_axes["yaxis" + n] = dict(
        domain=[py(b), py(t)], range=[-0.048, 1.248], anchor=xa,
        tickmode="array", tickvals=y_ticks, ticktext=y_labels, tickangle=-90,
        ticks="outside", ticklen=6, tickcolor=FRAME, tickwidth=1,
        showgrid=False, zeroline=False, showline=True, mirror=True,
        linecolor=FRAME, linewidth=1.5, ticklabelstandoff=4,
        tickfont=dict(family="Liberation Sans, Arial", size=11.5, color=TXT))
    for k, xb in enumerate(crisis_breaks):
        thick = thick_last_break[i] and k == len(crisis_breaks) - 1
        shapes.append(dict(type="line", xref=xa, yref=ya + " domain", x0=xb, x1=xb, y0=0, y1=1,
                           line=dict(color="#FF8A8A" if thick else "#FF2020", width=3 if thick else 1)))
    shapes.append(dict(type="line", xref=xa + " domain", yref=ya, x0=0, x1=1, y0=threshold, y1=threshold,
                       line=dict(color="#C03030", width=1, dash="dash")))
    for name, xp in zip(phase_names, phase_x):
        annotations.append(dict(text=name, x=xp, y=phase_y, xref=xa, yref=ya, showarrow=False,
                                xanchor="center", yanchor="middle",
                                font=dict(family="Liberation Sans, Arial", size=12, color=TXT)))
    top_line, bottom_line, title_y = headers[i]
    for yl in (top_line, bottom_line):
        shapes.append(dict(type="line", xref="paper", yref="paper", x0=7 / W, x1=1, y0=py(yl), y1=py(yl),
                           line=dict(color="#222222", width=1.4)))
    annotations.append(dict(text=panel_titles[i], x=21 / W, y=py(title_y), xref="paper", yref="paper",
                            xanchor="left", yanchor="middle", showarrow=False,
                            font=dict(family="Liberation Serif, Times New Roman, serif", size=28, color="#111111")))

# very top rule and main title
shapes.append(dict(type="line", xref="paper", yref="paper", x0=7 / W, x1=1, y0=py(10), y1=py(10),
                   line=dict(color="#333333", width=2.2)))
annotations.append(dict(text=main_title, x=518.5 / W, y=py(33), xref="paper", yref="paper",
                        xanchor="center", yanchor="middle", showarrow=False,
                        font=dict(family="Liberation Serif, Times New Roman, serif", size=28, color="#111111")))

fig.update_layout(width=W, height=H, margin=dict(l=0, r=0, t=0, b=0),
                  paper_bgcolor="white", plot_bgcolor="white",
                  shapes=shapes, annotations=annotations, showlegend=False, **layout_axes)

fig.write_html("out.html", config={"displayModeBar": False, "staticPlot": True},
               post_script="document.body.style.margin='0';document.body.style.overflow='hidden';")
